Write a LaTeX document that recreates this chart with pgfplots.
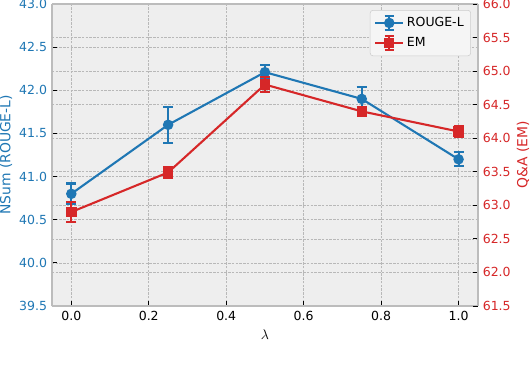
\documentclass[border=0pt]{standalone}
\usepackage{pgfplots}
\pgfplotsset{compat=1.18}
\usepackage{fontspec}
\setmainfont{DejaVu Sans}
\definecolor{tabblue}{RGB}{31,119,180}
\definecolor{tabred}{RGB}{214,39,40}
\definecolor{bgc}{HTML}{EEEEEE}
\definecolor{gridc}{HTML}{B8B8B8}
\definecolor{spine}{HTML}{BCBCBC}

\pgfplotsset{
  twin/.style={
    scale only axis, width=306.7pt, height=217.4pt,
    xmin=-0.05, xmax=1.05,
    tick align=inside, major tick length=3.5pt,
    tick style={black, line width=0.6pt},
    axis line style={spine, line width=1pt},
    grid style={gridc, dash pattern=on 1.8pt off 0.9pt, line width=0.45pt},
    /pgf/number format/assume math mode=true,
    ticklabel style={font=\fontsize{9}{10}\selectfont},
    label style={font=\fontsize{10}{12}\selectfont},
    yticklabel style={/pgf/number format/fixed, /pgf/number format/fixed zerofill, /pgf/number format/precision=1},
  },
  errs/.style={line width=1.5pt, mark size=3pt,
    /pgfplots/error bars/y dir=both, /pgfplots/error bars/y explicit,
    /pgfplots/error bars/error bar style={line width=1.5pt},
    /pgfplots/error bars/error mark options={#1, rotate=90, mark size=3.6pt, line width=1.5pt}},
}

\begin{document}
\begin{tikzpicture}
\useasboundingbox (-37.4pt,-49pt) rectangle (344.2pt,220.3pt);

\begin{axis}[twin,
  axis background/.style={fill=bgc},
  axis y line*=left, xtick pos=bottom,
  ymin=39.5, ymax=43.0,
  ytick={39.5,40.0,40.5,41.0,41.5,42.0,42.5,43.0},
  xtick={0,0.2,0.4,0.6,0.8,1.0},
  xticklabel style={/pgf/number format/fixed, /pgf/number format/fixed zerofill, /pgf/number format/precision=1},
  yticklabel style={text=tabblue},
  xmajorgrids, ymajorgrids,
  extra y ticks={39.8889,40.2778,40.6667,41.0556,41.4444,41.8333,42.2222,42.6111},
  extra y tick labels={},
  extra y tick style={major tick length=0pt, grid=major},
  xlabel={$\lambda$},
  ylabel={NSum (ROUGE-L)},
  every axis y label/.style={at={(axis description cs:0,0.5)}, xshift=-33pt, rotate=90, anchor=center, text=tabblue},
  every axis x label/.style={at={(axis description cs:0.5,0)}, yshift=-21pt, anchor=center},
]
\addplot[tabblue, mark=*, errs=tabblue] coordinates {
  (0.00,40.80) +- (0,0.12)
  (0.25,41.60) +- (0,0.21)
  (0.50,42.21) +- (0,0.08)
  (0.75,41.90) +- (0,0.14)
  (1.00,41.20) +- (0,0.08)
};
\end{axis}

\begin{axis}[twin,
  axis y line*=right, axis x line=none,
  ymin=61.5, ymax=66.0,
  ytick={61.5,62.0,62.5,63.0,63.5,64.0,64.5,65.0,65.5,66.0},
  yticklabel style={text=tabred},
  ylabel={Q\&A (EM)},
  every axis y label/.style={at={(axis description cs:1,0.5)}, xshift=32.4pt, rotate=90, anchor=center, text=tabred},
  legend style={at={(axis description cs:0.9836,0.98)}, anchor=north east,
    fill=bgc!60!white, draw=gridc!70!white, rounded corners=2pt,
    font=\fontsize{9}{10}\selectfont, row sep=2.5pt, inner sep=3pt},
  legend cell align=left,
  legend image code/.code={
    \draw[#1, mark=none] (0pt,0pt) -- (20pt,0pt);
    \draw[#1, mark=none] (10pt,-5pt) -- (10pt,5pt) (6.6pt,5pt) -- (13.4pt,5pt) (6.6pt,-5pt) -- (13.4pt,-5pt);
    \draw[#1] plot coordinates {(10pt,0pt)};
  },
]
\addlegendimage{tabblue, line width=1.5pt, mark=*, mark size=3pt}
\addlegendentry{ROUGE-L}
\addlegendimage{tabred, line width=1.5pt, mark=square*, mark size=3pt}
\addlegendentry{EM}
\addplot[forget plot, tabred, mark=square*, errs=tabred] coordinates {
  (0.00,62.90) +- (0,0.15)
  (0.25,63.49) +- (0,0.08)
  (0.50,64.80) +- (0,0.11)
  (0.75,64.40) +- (0,0.06)
  (1.00,64.10) +- (0,0.08)
};
\end{axis}
\end{tikzpicture}
\end{document}
